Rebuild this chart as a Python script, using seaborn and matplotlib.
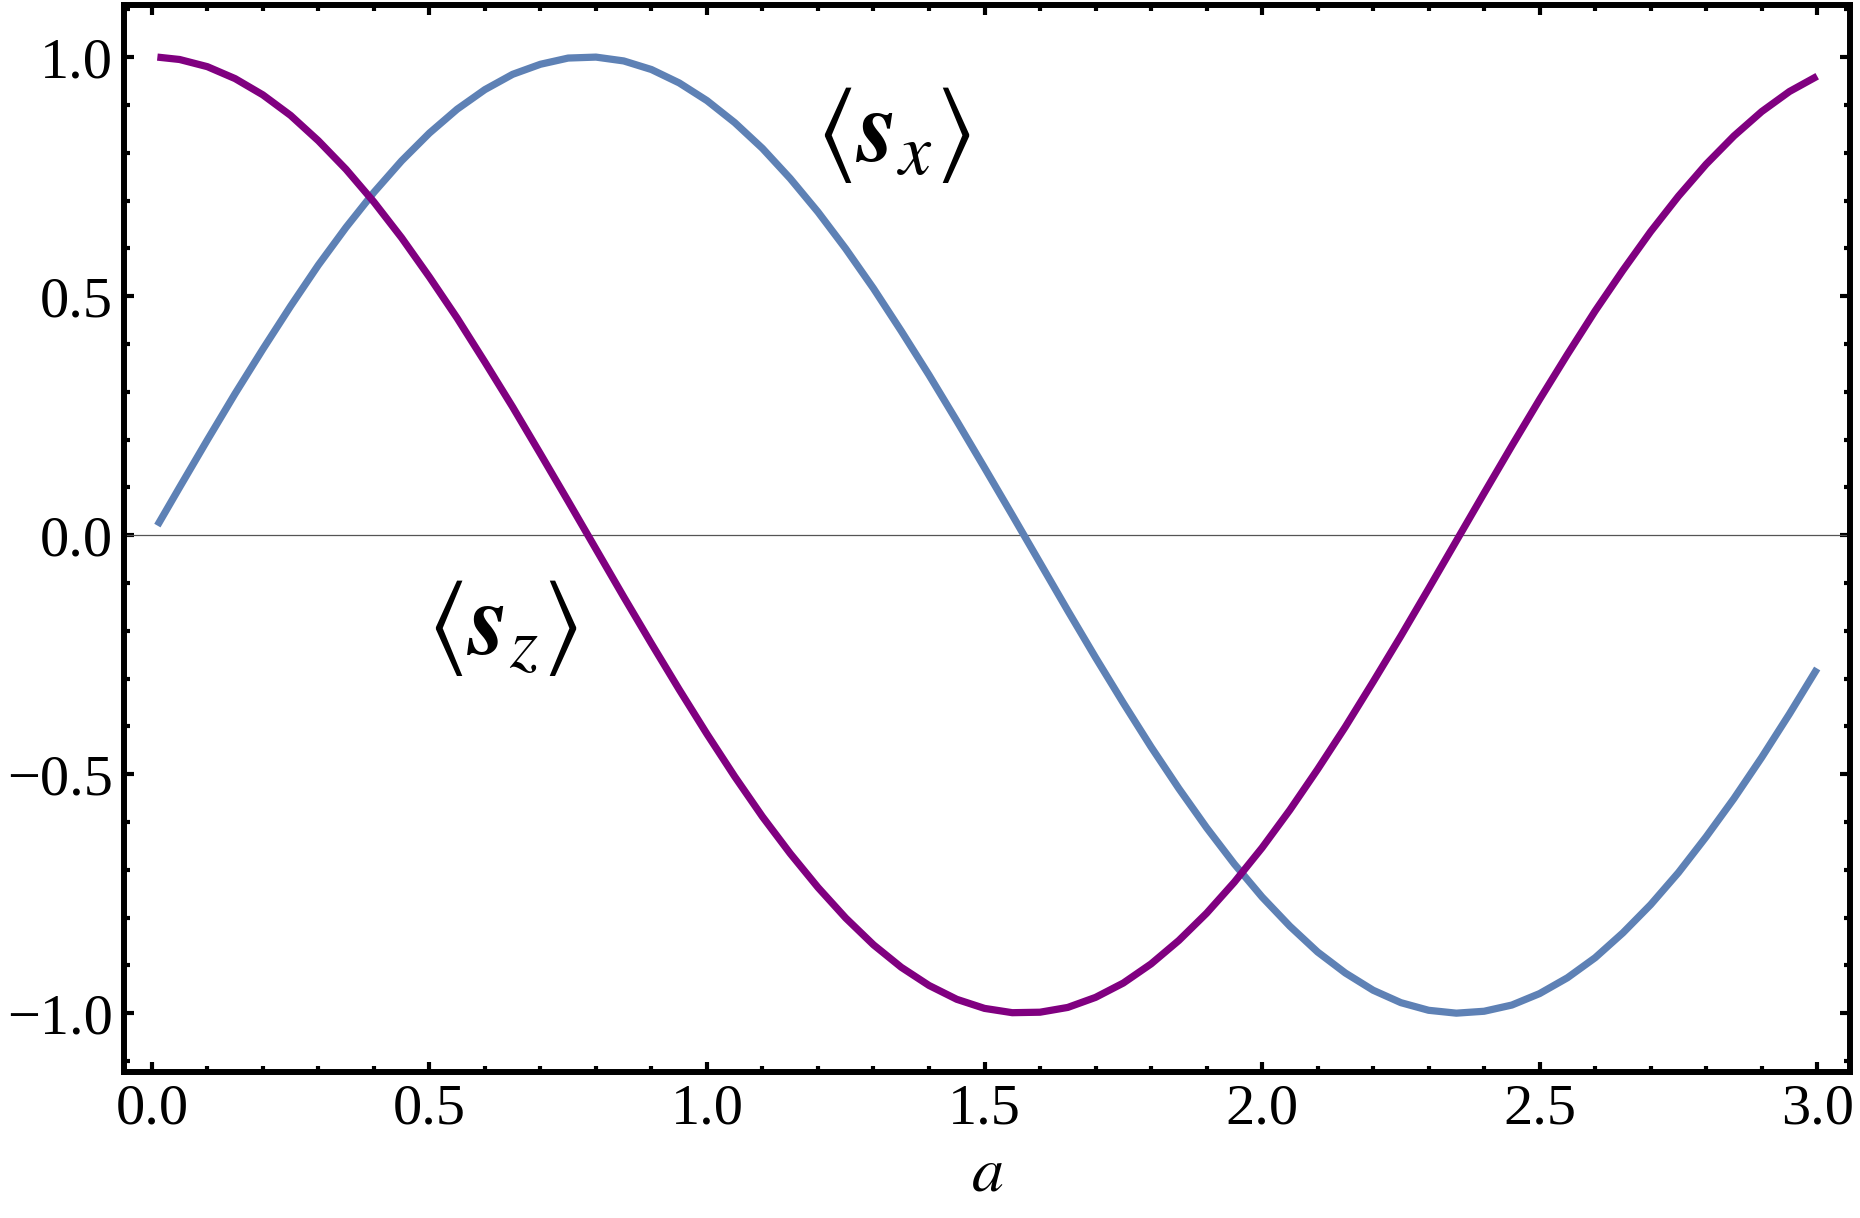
import numpy as np
import pandas as pd
import matplotlib
matplotlib.use('Agg')
import matplotlib.pyplot as plt
from matplotlib.ticker import MultipleLocator
import seaborn as sns

# values
a_vals = [0.01, 0.05, 0.10, 0.15, 0.20, 0.25, 0.30, 0.35, 0.40, 0.45,
          0.50, 0.55, 0.60, 0.65, 0.70, 0.75, 0.80, 0.85, 0.90, 0.95,
          1.00, 1.05, 1.10, 1.15, 1.20, 1.25, 1.30, 1.35, 1.40, 1.45,
          1.50, 1.55, 1.60, 1.65, 1.70, 1.75, 1.80, 1.85, 1.90, 1.95,
          2.00, 2.05, 2.10, 2.15, 2.20, 2.25, 2.30, 2.35, 2.40, 2.45,
          2.50, 2.55, 2.60, 2.65, 2.70, 2.75, 2.80, 2.85, 2.90, 2.95, 3.00]
sx_vals = [0.020, 0.100, 0.199, 0.296, 0.389, 0.479, 0.565, 0.644, 0.717, 0.783,
           0.841, 0.891, 0.932, 0.964, 0.985, 0.998, 1.000, 0.992, 0.974, 0.946,
           0.909, 0.863, 0.809, 0.746, 0.676, 0.599, 0.516, 0.427, 0.335, 0.239,
           0.141, 0.042, -0.058, -0.158, -0.256, -0.351, -0.443, -0.530, -0.612, -0.688,
           -0.757, -0.818, -0.872, -0.916, -0.952, -0.978, -0.994, -1.000, -0.996, -0.983,
           -0.959, -0.926, -0.884, -0.832, -0.773, -0.706, -0.631, -0.551, -0.465, -0.374, -0.279]
sz_vals = [1.000, 0.995, 0.980, 0.955, 0.921, 0.878, 0.825, 0.765, 0.697, 0.622,
           0.540, 0.454, 0.362, 0.268, 0.170, 0.071, -0.029, -0.129, -0.227, -0.323,
           -0.416, -0.505, -0.589, -0.666, -0.737, -0.801, -0.857, -0.904, -0.942, -0.971,
           -0.990, -0.999, -0.998, -0.988, -0.967, -0.937, -0.897, -0.848, -0.791, -0.726,
           -0.654, -0.575, -0.490, -0.401, -0.307, -0.211, -0.112, -0.012, 0.088, 0.187,
           0.284, 0.378, 0.469, 0.554, 0.635, 0.709, 0.776, 0.835, 0.886, 0.928, 0.960]

x_ticks = [0.0, 0.5, 1.0, 1.5, 2.0, 2.5, 3.0]
y_ticks = [-1.0, -0.5, 0.0, 0.5, 1.0]

blue = '#5e81b5'
purple = '#800080'

sns.set_style('ticks')
plt.rcParams['font.family'] = ['Liberation Serif', 'DejaVu Serif']
plt.rcParams['mathtext.fontset'] = 'stix'
plt.rcParams['text.color'] = 'black'
plt.rcParams['axes.labelcolor'] = 'black'

df = pd.DataFrame({'a': a_vals, 'sx': sx_vals, 'sz': sz_vals})

fig = plt.figure(figsize=(18.6, 12.18), dpi=100)
ax = fig.add_axes([0.0667, 0.1199, 0.9279, 0.8760])

ax.axhline(0, color='#555555', lw=0.9, zorder=1)
sns.lineplot(data=df, x='a', y='sx', color=blue, lw=5.2, ax=ax, zorder=3,
             solid_capstyle='butt')
sns.lineplot(data=df, x='a', y='sz', color=purple, lw=5.2, ax=ax, zorder=3,
             solid_capstyle='butt')

ax.set_xlim(-0.05, 3.059)
ax.set_ylim(-1.123, 1.109)
ax.set_xticks(x_ticks)
ax.set_yticks(y_ticks)
ax.set_xticklabels([f'{t:.1f}' for t in x_ticks])
ax.set_yticklabels([f'{t:.1f}'.replace('-', '\u2212') for t in y_ticks])
ax.xaxis.set_minor_locator(MultipleLocator(0.1))
ax.yaxis.set_minor_locator(MultipleLocator(0.1))

for sp in ax.spines.values():
    sp.set_linewidth(4.3)
    sp.set_color('black')
ax.tick_params(which='both', direction='in', top=True, right=True,
               labelsize=42, width=3, pad=8, colors='black')
ax.tick_params(which='major', length=7)
ax.tick_params(which='minor', length=4)

ax.set_xlabel('$a$', fontsize=46, labelpad=8, color='black')
ax.set_ylabel('')

ax.text(1.335, 0.837, r'$\langle \mathbfit{s}_{x} \rangle$', fontsize=74,
        ha='center', va='center', color='black')
ax.text(0.632, -0.195, r'$\langle \mathbfit{s}_{z} \rangle$', fontsize=74,
        ha='center', va='center', color='black')

fig.savefig('out.png', dpi=100)
